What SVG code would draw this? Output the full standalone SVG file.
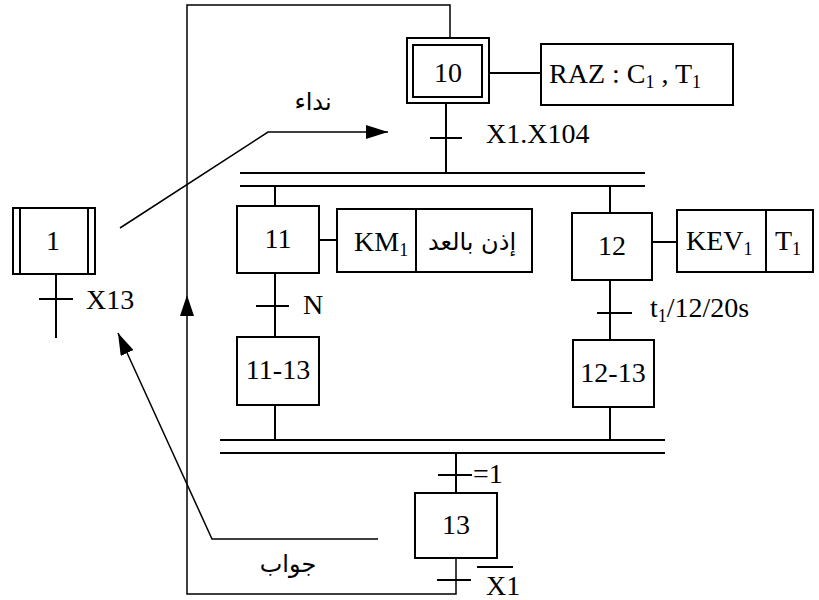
<svg xmlns="http://www.w3.org/2000/svg" width="819" height="600" viewBox="0 0 819 600">
<style>
.box{fill:#fff;stroke:#000;stroke-width:2}
.ln{fill:none;stroke:#000;stroke-width:2}
.thin{fill:none;stroke:#000;stroke-width:1.5}
.t{font-family:"Liberation Serif","Times New Roman",serif;font-size:28px;fill:#000}
.c{text-anchor:middle}
.ar{font-family:"DejaVu Sans","Noto Sans",sans-serif;font-size:24px;fill:#000;text-anchor:middle}
.sub{font-size:18px}
</style>
<defs>
<marker id="ah" viewBox="0 0 22 14" refX="22" refY="7" markerWidth="22" markerHeight="14" markerUnits="userSpaceOnUse" orient="auto">
<path d="M0,0 L22,7 L0,14 Z" fill="#000"/>
</marker>
</defs>
<g id="connectors">
<path class="thin" d="M456,558 V594 H187 V5 H450 V38"/>
<path d="M187,295 L180,316 L194,316 Z" fill="#000"/>
<path class="ln" d="M446,103 V173"/>
<path class="ln" d="M430,138 H462"/>
<path class="ln" d="M240,173 H645 M240,186 H645"/>
<path class="ln" d="M275,186 V206 M610,186 V213"/>
<path class="ln" d="M489,73 H541"/>
<path class="ln" d="M319,240 H337"/>
<path class="ln" d="M652,242 H677"/>
<path class="ln" d="M275,273 V337 M256,306 H289"/>
<path class="ln" d="M610,280 V340 M597,313 H632"/>
<path class="ln" d="M275,405 V440 M610,407 V440"/>
<path class="ln" d="M220,440 H665 M220,453 H665"/>
<path class="ln" d="M456,453 V493 M438,475 H472"/>
<path class="ln" d="M437,580 H471"/>
<path class="ln" d="M56,274 V338 M39,299 H73"/>
<path class="thin" d="M120,228 L268,132 H388" marker-end="url(#ah)"/>
<path class="thin" d="M378,539 H212 L118,333" marker-end="url(#ah)"/>
</g>
<g id="step10">
<rect class="box" x="407" y="38" width="82" height="65"/>
<rect class="box" x="413" y="45" width="69" height="52"/>
<text class="t c" x="448" y="82">10</text>
</g>
<g id="action10">
<rect class="box" x="541" y="44" width="192" height="61"/>
<text class="t" x="549" y="83">RAZ : C<tspan class="sub" dy="5">1</tspan><tspan dy="-5"> , T</tspan><tspan class="sub" dy="5">1</tspan></text>
</g>
<text class="t" x="486" y="143">X1.X104</text>
<g id="step1">
<rect class="box" x="13" y="208" width="82" height="66"/>
<path class="ln" d="M20,208 V274 M88,208 V274"/>
<text class="t c" x="53" y="250">1</text>
</g>
<text class="t" x="86" y="309">X13</text>
<g id="step11">
<rect class="box" x="237" y="206" width="82" height="67"/>
<text class="t c" x="278" y="248">11</text>
</g>
<g id="action11">
<rect class="box" x="337" y="209" width="195" height="63"/>
<path class="ln" d="M416,209 V272"/>
<text class="t" x="354" y="251">KM<tspan class="sub" dy="5">1</tspan></text>
<text class="ar" x="472" y="250">إذن بالعد</text>
</g>
<g id="step12">
<rect class="box" x="572" y="213" width="80" height="67"/>
<text class="t c" x="612" y="255">12</text>
</g>
<g id="action12">
<rect class="box" x="677" y="210" width="136" height="62"/>
<path class="ln" d="M766,210 V272"/>
<text class="t" x="686" y="250">KEV<tspan class="sub" dy="5">1</tspan></text>
<text class="t" x="775" y="250">T<tspan class="sub" dy="5">1</tspan></text>
</g>
<text class="t" x="303" y="314">N</text>
<text class="t" x="650" y="317">t<tspan class="sub" dy="5">1</tspan><tspan dy="-5">/12/20s</tspan></text>
<g id="step11-13">
<rect class="box" x="237" y="337" width="82" height="68"/>
<text class="t c" x="278" y="379">11-13</text>
</g>
<g id="step12-13">
<rect class="box" x="573" y="340" width="81" height="67"/>
<text class="t c" x="613" y="382">12-13</text>
</g>
<text class="t" x="473" y="483">=1</text>
<g id="step13">
<rect class="box" x="415" y="493" width="82" height="65"/>
<text class="t c" x="456" y="534">13</text>
</g>
<path class="ln" d="M477,567 H513"/>
<text class="t" x="486" y="595">X1</text>
<text class="ar" x="313" y="110">نداء</text>
<text class="ar" x="288" y="572">جواب</text>
</svg>
